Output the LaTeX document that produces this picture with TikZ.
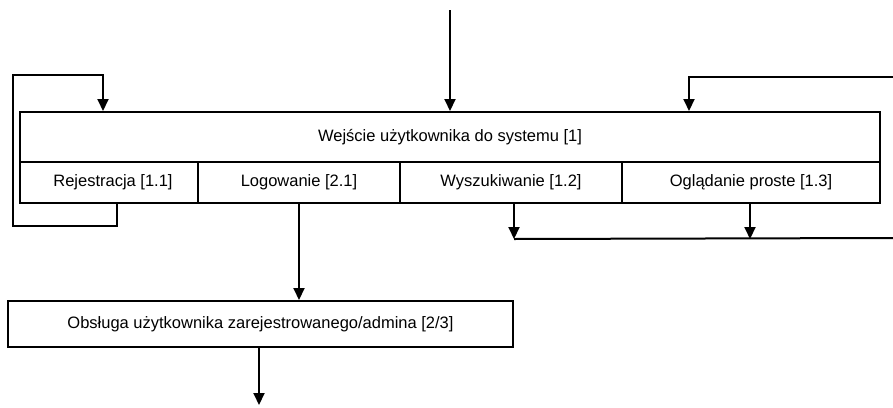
\documentclass[tikz,border=0pt]{standalone}
\usepackage{fontspec}
\setmainfont{Liberation Sans}
\usetikzlibrary{arrows.meta,calc}
\begin{document}
\begin{tikzpicture}[x=1pt,y=-1pt,
  box/.style={draw,line width=2pt,inner sep=0pt,font=\fontsize{16.5}{19}\selectfont},
  ln/.style={line width=2pt},
  arr/.style={line width=2pt,-{Triangle[length=12pt,width=11pt]}}]
\useasboundingbox (0,0) rectangle (893,407);
\node[box,minimum width=860pt,minimum height=50pt] (main) at (450,137) {Wejście użytkownika do systemu [1]};
\node[box,minimum width=178pt,minimum height=41pt] (rej) at (109,182.5) {\hspace{8pt}Rejestracja [1.1]};
\node[box,minimum width=202pt,minimum height=41pt] (log) at (299,182.5) {Logowanie [2.1]};
\node[box,minimum width=222pt,minimum height=41pt] (wys) at (511,182.5) {Wyszukiwanie [1.2]};
\node[box,minimum width=258pt,minimum height=41pt] (ogl) at (751,182.5) {Oglądanie proste [1.3]};
\node[box,minimum width=505pt,minimum height=46pt] (bot) at (260.5,324) {Obsługa użytkownika zarejestrowanego/admina [2/3]};
\coordinate (tin) at (450,10);
\coordinate (lb) at (13,226);
\coordinate (lt) at (13,75);
\coordinate (rin) at (893,77);
\coordinate (rout) at (893,238);
\coordinate (bout) at (259,405);
\draw[arr] (tin) -- (main.north);
\draw[arr] ($(rej.south)+(8,0)$) |- (lb) -- (lt) -| ($(main.north west)+(84,0)$);
\draw[arr] (rin) -| ($(main.north west)+(670,0)$);
\draw[ln] ($(wys.south)+(3,35)$) -- (rout);
\draw[arr] ($(wys.south)+(3,0)$) -- ++(0,35);
\draw[arr] ($(ogl.south)+(-1,0)$) -- ++(0,35);
\draw[arr] (log.south) -- (log.south |- bot.north);
\draw[arr] (bot.south -| bout) -- (bout);
\end{tikzpicture}
\end{document}
